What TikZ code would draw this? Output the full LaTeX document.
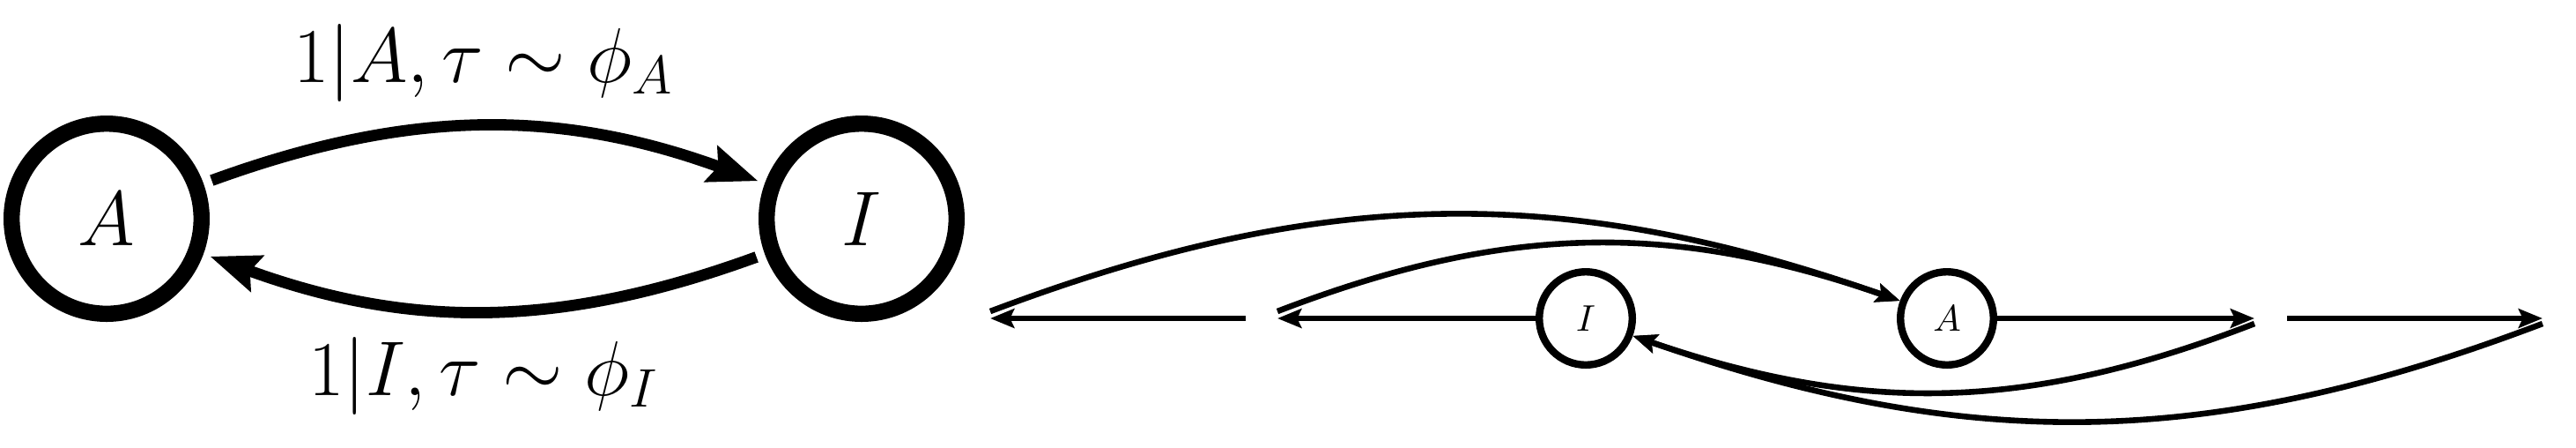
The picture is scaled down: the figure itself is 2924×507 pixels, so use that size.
\RequirePackage{fix-cm}
\documentclass[tikz,border=0pt]{standalone}
\usetikzlibrary{arrows.meta}
\begin{document}
\begin{tikzpicture}[x=0.25pt,y=-0.25pt,
  bigstate/.style={circle,draw,line width=4.6pt,minimum size=53.9pt,inner sep=0pt,font=\fontsize{22}{26}\selectfont},
  smallstate/.style={circle,draw,line width=2.1pt,minimum size=26.4pt,inner sep=0pt,font=\fontsize{10.5}{12}\selectfont},
  bigarrow/.style={line width=3.2pt,-{Stealth[length=14pt,width=10.5pt,inset=2pt]},shorten <=2.5pt,shorten >=2pt},
  smallarrow/.style={line width=1.65pt,-{Stealth[length=6.8pt,width=5.4pt,inset=1.2pt]}},
  lbl/.style={font=\fontsize{22}{26}\selectfont,anchor=base,inner sep=0pt}]
\useasboundingbox (0,0) rectangle (2924,507);
% left part
\node[bigstate] (A) at (121,248) {$A$};
\node[bigstate] (I) at (978,248) {$I$};
\draw[bigarrow] (A) to[bend left=20] (I);
\draw[bigarrow] (I) to[bend left=20] (A);
\node[lbl] (la) at (549,93) {$1|A,\tau\sim\phi_A$};
\node[lbl] (li) at (549,448) {$1|I,\tau\sim\phi_I$};
% right part
\node[smallstate] (Is) at (1800,361) {$I$};
\node[smallstate] (As) at (2210,361) {$A$};
\coordinate (l1) at (1450,361);
\coordinate (l2) at (1414,361);
\coordinate (l3) at (1124,361);
\coordinate (l1c) at (1450,353);
\coordinate (l3c) at (1124,353);
\coordinate (r1) at (2559,361);
\coordinate (r2) at (2596,361);
\coordinate (r3) at (2886,361);
\coordinate (r1c) at (2559,367);
\coordinate (r3c) at (2886,367);
\draw[smallarrow] (Is) -- (l1);
\draw[smallarrow] (l2) -- (l3);
\draw[smallarrow] (As) -- (r1);
\draw[smallarrow] (r2) -- (r3);
\draw[smallarrow] (l3c) to[bend left=20] (As);
\draw[smallarrow] (l1c) to[bend left=20] (As);
\draw[smallarrow] (r1c) to[bend left=20] (Is);
\draw[smallarrow] (r3c) to[bend left=20] (Is);
\end{tikzpicture}
\end{document}
